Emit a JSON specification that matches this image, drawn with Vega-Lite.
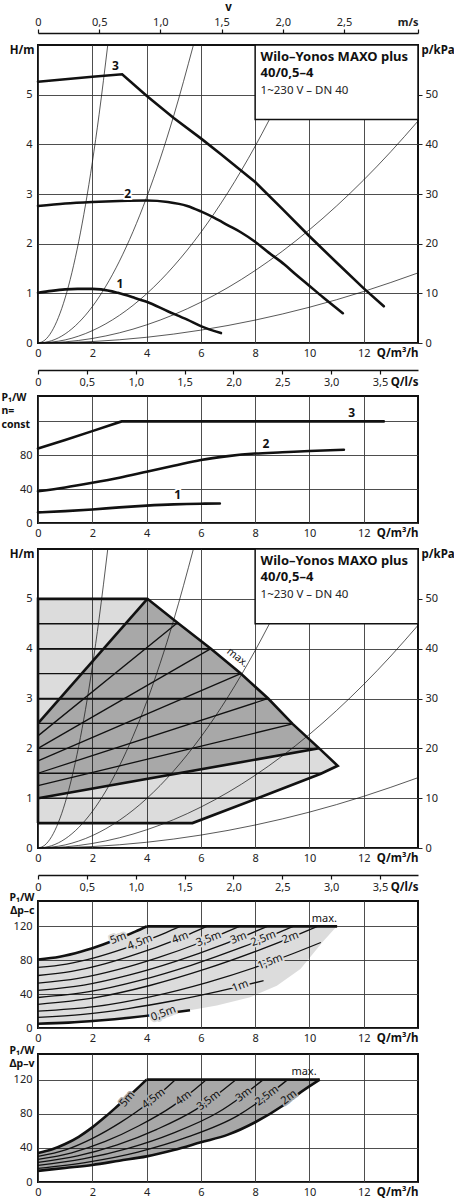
{
  "$schema": "https://vega.github.io/schema/vega-lite/v6.json",
  "padding": {"left": 0, "top": 0, "right": 0, "bottom": 0},
  "bounds": "flush",
  "spacing": 26,
  "config": {
    "view": {"stroke": null},
    "font": "Noto Sans",
    "axis": {
      "labelFont": "Noto Sans", "labelFontSize": 11, "labelColor": "#222",
      "titleFont": "Noto Sans", "titleFontSize": 11.5, "titleFontWeight": "bold", "titleColor": "#111",
      "domain": false, "ticks": false, "grid": true, "gridColor": "#3a3a3a", "gridWidth": 0.9,
      "labelPadding": 4, "labelFlush": false, "labelOverlap": false
    }
  },
  "datasets": {
    "sys": [
      {"s": "k1", "q": 0, "h": 0}, {"s": "k1", "q": 0.25, "h": 0.057}, {"s": "k1", "q": 0.5, "h": 0.227}, {"s": "k1", "q": 0.75, "h": 0.511},
      {"s": "k1", "q": 1, "h": 0.908}, {"s": "k1", "q": 1.25, "h": 1.419}, {"s": "k1", "q": 1.5, "h": 2.043}, {"s": "k1", "q": 1.75, "h": 2.781},
      {"s": "k1", "q": 2, "h": 3.632}, {"s": "k1", "q": 2.25, "h": 4.597}, {"s": "k1", "q": 2.57, "h": 6.0},
      {"s": "k2", "q": 0, "h": 0}, {"s": "k2", "q": 0.5, "h": 0.046}, {"s": "k2", "q": 1, "h": 0.183}, {"s": "k2", "q": 1.5, "h": 0.412},
      {"s": "k2", "q": 2, "h": 0.732}, {"s": "k2", "q": 2.5, "h": 1.144}, {"s": "k2", "q": 3, "h": 1.647}, {"s": "k2", "q": 3.5, "h": 2.242},
      {"s": "k2", "q": 4, "h": 2.928}, {"s": "k2", "q": 4.5, "h": 3.706}, {"s": "k2", "q": 5, "h": 4.575}, {"s": "k2", "q": 5.72, "h": 5.988},
      {"s": "k3", "q": 0, "h": 0}, {"s": "k3", "q": 1, "h": 0.062}, {"s": "k3", "q": 2, "h": 0.248}, {"s": "k3", "q": 3, "h": 0.557},
      {"s": "k3", "q": 4, "h": 0.99}, {"s": "k3", "q": 5, "h": 1.548}, {"s": "k3", "q": 6, "h": 2.228}, {"s": "k3", "q": 7, "h": 3.033},
      {"s": "k3", "q": 8, "h": 3.962}, {"s": "k3", "q": 9, "h": 5.014}, {"s": "k3", "q": 9.85, "h": 6.0},
      {"s": "k4", "q": 0, "h": 0}, {"s": "k4", "q": 1, "h": 0.023}, {"s": "k4", "q": 2, "h": 0.091}, {"s": "k4", "q": 3, "h": 0.205},
      {"s": "k4", "q": 4, "h": 0.365}, {"s": "k4", "q": 5, "h": 0.57}, {"s": "k4", "q": 6, "h": 0.821}, {"s": "k4", "q": 7, "h": 1.117},
      {"s": "k4", "q": 8, "h": 1.459}, {"s": "k4", "q": 9, "h": 1.847}, {"s": "k4", "q": 10, "h": 2.28}, {"s": "k4", "q": 11, "h": 2.759},
      {"s": "k4", "q": 12, "h": 3.283}, {"s": "k4", "q": 13, "h": 3.853}, {"s": "k4", "q": 14, "h": 4.469},
      {"s": "k5", "q": 0, "h": 0}, {"s": "k5", "q": 2, "h": 0.029}, {"s": "k5", "q": 4, "h": 0.115}, {"s": "k5", "q": 6, "h": 0.259},
      {"s": "k5", "q": 8, "h": 0.461}, {"s": "k5", "q": 10, "h": 0.72}, {"s": "k5", "q": 12, "h": 1.037}, {"s": "k5", "q": 14, "h": 1.411}
    ],
    "p1": [
      {"s": "c3", "q": 0, "h": 5.26}, {"s": "c3", "q": 1, "h": 5.31}, {"s": "c3", "q": 2, "h": 5.36}, {"s": "c3", "q": 3.1, "h": 5.41},
      {"s": "c3", "q": 4, "h": 4.98}, {"s": "c3", "q": 5, "h": 4.53}, {"s": "c3", "q": 6, "h": 4.12}, {"s": "c3", "q": 6.74, "h": 3.8},
      {"s": "c3", "q": 8, "h": 3.24}, {"s": "c3", "q": 9, "h": 2.7}, {"s": "c3", "q": 10, "h": 2.15}, {"s": "c3", "q": 11, "h": 1.62},
      {"s": "c3", "q": 12, "h": 1.1}, {"s": "c3", "q": 12.74, "h": 0.74},
      {"s": "c2", "q": 0, "h": 2.76}, {"s": "c2", "q": 1, "h": 2.81}, {"s": "c2", "q": 2, "h": 2.84}, {"s": "c2", "q": 3, "h": 2.86},
      {"s": "c2", "q": 4, "h": 2.87}, {"s": "c2", "q": 4.78, "h": 2.84}, {"s": "c2", "q": 5.5, "h": 2.76}, {"s": "c2", "q": 6, "h": 2.65},
      {"s": "c2", "q": 6.5, "h": 2.52}, {"s": "c2", "q": 7, "h": 2.37}, {"s": "c2", "q": 7.5, "h": 2.22}, {"s": "c2", "q": 7.97, "h": 2.05},
      {"s": "c2", "q": 8.5, "h": 1.82}, {"s": "c2", "q": 9.08, "h": 1.58}, {"s": "c2", "q": 9.5, "h": 1.38}, {"s": "c2", "q": 9.94, "h": 1.18},
      {"s": "c2", "q": 10.5, "h": 0.92}, {"s": "c2", "q": 11.23, "h": 0.6},
      {"s": "c1", "q": 0, "h": 1.01}, {"s": "c1", "q": 0.5, "h": 1.05}, {"s": "c1", "q": 1, "h": 1.08}, {"s": "c1", "q": 1.46, "h": 1.09},
      {"s": "c1", "q": 2, "h": 1.09}, {"s": "c1", "q": 2.32, "h": 1.08}, {"s": "c1", "q": 2.94, "h": 1.01}, {"s": "c1", "q": 3.5, "h": 0.92},
      {"s": "c1", "q": 4, "h": 0.83}, {"s": "c1", "q": 4.78, "h": 0.64}, {"s": "c1", "q": 5.5, "h": 0.47}, {"s": "c1", "q": 6, "h": 0.34},
      {"s": "c1", "q": 6.74, "h": 0.2}
    ],
    "p1lab": [
      {"q": 2.85, "h": 5.58, "t": "3"}, {"q": 3.3, "h": 3.0, "t": "2"}, {"q": 3.02, "h": 1.18, "t": "1"}
    ],
    "box": [{"q": 8, "q2": 14, "h": 4.5, "h2": 6}],
    "boxbold": [
      {"q": 8.2, "h": 5.68, "t": "Wilo–Yonos MAXO plus"}, {"q": 8.2, "h": 5.35, "t": "40/0,5–4"}
    ],
    "boxreg": [{"q": 8.2, "h": 5.01, "t": "1~230 V – DN 40"}],
    "p2": [
      {"s": "c3", "q": 0, "h": 88}, {"s": "c3", "q": 1, "h": 98}, {"s": "c3", "q": 2, "h": 108.5}, {"s": "c3", "q": 3.08, "h": 120},
      {"s": "c3", "q": 12.74, "h": 120},
      {"s": "c2", "q": 0, "h": 37.5}, {"s": "c2", "q": 1, "h": 42}, {"s": "c2", "q": 2, "h": 47.5}, {"s": "c2", "q": 3, "h": 53.5},
      {"s": "c2", "q": 4, "h": 60.5}, {"s": "c2", "q": 5, "h": 67.5}, {"s": "c2", "q": 6, "h": 74.5}, {"s": "c2", "q": 7, "h": 79},
      {"s": "c2", "q": 8, "h": 82}, {"s": "c2", "q": 9, "h": 83.5}, {"s": "c2", "q": 10, "h": 85}, {"s": "c2", "q": 11.27, "h": 86.5},
      {"s": "c1", "q": 0, "h": 12.5}, {"s": "c1", "q": 1, "h": 14}, {"s": "c1", "q": 2, "h": 16}, {"s": "c1", "q": 3, "h": 18.5},
      {"s": "c1", "q": 4, "h": 20.5}, {"s": "c1", "q": 5, "h": 22}, {"s": "c1", "q": 6, "h": 22.8}, {"s": "c1", "q": 6.7, "h": 23}
    ],
    "p2lab": [
      {"q": 11.56, "h": 130, "t": "3"}, {"q": 8.4, "h": 93.4, "t": "2"}, {"q": 5.15, "h": 32.7, "t": "1"}
    ],
    "p3a": [
      {"q": 0, "h": 0.5, "h2": 5}, {"q": 4.03, "h": 0.5, "h2": 5}, {"q": 5.14, "h": 0.5, "h2": 4.52}, {"q": 5.69, "h": 0.5, "h2": 4.29},
      {"q": 6.37, "h": 0.642, "h2": 4.0}, {"q": 7.47, "h": 0.87, "h2": 3.5}, {"q": 8.09, "h": 1.0, "h2": 3.19}, {"q": 8.48, "h": 1.08, "h2": 3.0},
      {"q": 9.38, "h": 1.27, "h2": 2.49}, {"q": 10.36, "h": 1.475, "h2": 2.0}, {"q": 10.42, "h": 1.49, "h2": 1.97}, {"q": 11.04, "h": 1.65, "h2": 1.65}
    ],
    "p3b": [
      {"q": 0, "h": 1.0, "h2": 2.5}, {"q": 4.03, "h": 1.39, "h2": 5.0}, {"q": 5.14, "h": 1.496, "h2": 4.52}, {"q": 6.37, "h": 1.615, "h2": 4.0},
      {"q": 7.47, "h": 1.721, "h2": 3.5}, {"q": 8.48, "h": 1.818, "h2": 3.0}, {"q": 9.38, "h": 1.905, "h2": 2.49}, {"q": 10.36, "h": 2.0, "h2": 2.0}
    ],
    "p3o": [
      {"o": 1, "q": 0, "h": 0.5}, {"o": 2, "q": 0, "h": 5}, {"o": 3, "q": 4.03, "h": 5}, {"o": 4, "q": 5.14, "h": 4.52},
      {"o": 5, "q": 6.37, "h": 4.0}, {"o": 6, "q": 7.47, "h": 3.5}, {"o": 7, "q": 8.48, "h": 3.0}, {"o": 8, "q": 9.38, "h": 2.49},
      {"o": 9, "q": 10.36, "h": 2.0}, {"o": 10, "q": 11.04, "h": 1.65}, {"o": 11, "q": 10.42, "h": 1.49}, {"o": 12, "q": 8.09, "h": 1.0},
      {"o": 13, "q": 5.69, "h": 0.5}, {"o": 14, "q": 0, "h": 0.5}
    ],
    "p3k": [
      {"s": "a", "q": 0, "h": 2.5}, {"s": "a", "q": 4.03, "h": 5},
      {"s": "b", "q": 0, "h": 1.0}, {"s": "b", "q": 10.36, "h": 2.0}
    ],
    "p3t": [
      {"s": "v45", "q": 0, "h": 2.25}, {"s": "v45", "q": 5.14, "h": 4.52},
      {"s": "v40", "q": 0, "h": 2.0}, {"s": "v40", "q": 6.37, "h": 4.0},
      {"s": "v35", "q": 0, "h": 1.75}, {"s": "v35", "q": 7.47, "h": 3.5},
      {"s": "v30", "q": 0, "h": 1.5}, {"s": "v30", "q": 8.48, "h": 3.0},
      {"s": "v25", "q": 0, "h": 1.25}, {"s": "v25", "q": 9.38, "h": 2.49},
      {"s": "c45", "q": 0, "h": 4.5}, {"s": "c45", "q": 5.18, "h": 4.5},
      {"s": "c40", "q": 0, "h": 4.0}, {"s": "c40", "q": 6.37, "h": 4.0},
      {"s": "c35", "q": 0, "h": 3.5}, {"s": "c35", "q": 7.47, "h": 3.5},
      {"s": "c30", "q": 0, "h": 3.0}, {"s": "c30", "q": 8.48, "h": 3.0},
      {"s": "c25", "q": 0, "h": 2.5}, {"s": "c25", "q": 9.38, "h": 2.5},
      {"s": "c20", "q": 0, "h": 2.0}, {"s": "c20", "q": 10.36, "h": 2.0},
      {"s": "c15", "q": 0, "h": 1.5}, {"s": "c15", "q": 10.45, "h": 1.5},
      {"s": "c10", "q": 0, "h": 1.0}, {"s": "c10", "q": 8.09, "h": 1.0}
    ],
    "p3max": [{"q": 7.35, "h": 3.82, "t": "max."}],
    "p4a": [
      {"q": 0, "h": 5, "h2": 81}, {"q": 0.8, "h": 5.9, "h2": 84.2}, {"q": 1.12, "h": 6.3, "h2": 86.6}, {"q": 1.6, "h": 7.4, "h2": 90.4},
      {"q": 2.24, "h": 8.9, "h2": 97.0}, {"q": 2.4, "h": 9.4, "h2": 98.7}, {"q": 3.2, "h": 11.7, "h2": 108.6}, {"q": 3.36, "h": 12.2, "h2": 110.8},
      {"q": 3.6, "h": 13.1, "h2": 114.1}, {"q": 4.0, "h": 14.5, "h2": 120}, {"q": 4.48, "h": 16.3, "h2": 120}, {"q": 5.04, "h": 18.6, "h2": 120},
      {"q": 5.6, "h": 21, "h2": 120}, {"q": 6.59, "h": 26.6, "h2": 120}, {"q": 7.82, "h": 36.4, "h2": 120}, {"q": 8.8, "h": 50, "h2": 120},
      {"q": 9.67, "h": 69.6, "h2": 120}, {"q": 10.47, "h": 101, "h2": 120}, {"q": 10.96, "h": 118.5, "h2": 120}, {"q": 11.02, "h": 120, "h2": 120}
    ],
    "p4": [
      {"s": "5m", "q": 0, "h": 81}, {"s": "5m", "q": 0.8, "h": 84.2}, {"s": "5m", "q": 1.6, "h": 90.4}, {"s": "5m", "q": 2.4, "h": 98.7},
      {"s": "5m", "q": 3.2, "h": 108.6}, {"s": "5m", "q": 3.6, "h": 114.1}, {"s": "5m", "q": 4.0, "h": 120},
      {"s": "4.5m", "q": 0, "h": 71.5}, {"s": "4.5m", "q": 1.05, "h": 75.5}, {"s": "4.5m", "q": 2.1, "h": 83.2}, {"s": "4.5m", "q": 3.14, "h": 93.5},
      {"s": "4.5m", "q": 4.19, "h": 105.8}, {"s": "4.5m", "q": 4.72, "h": 112.7}, {"s": "4.5m", "q": 5.24, "h": 120},
      {"s": "4m", "q": 0, "h": 62}, {"s": "4m", "q": 1.24, "h": 66.8}, {"s": "4m", "q": 2.49, "h": 76.0}, {"s": "4m", "q": 3.73, "h": 88.3},
      {"s": "4m", "q": 4.98, "h": 103.0}, {"s": "4m", "q": 5.6, "h": 111.2}, {"s": "4m", "q": 6.22, "h": 120},
      {"s": "3.5m", "q": 0, "h": 53}, {"s": "3.5m", "q": 1.48, "h": 58.5}, {"s": "3.5m", "q": 2.97, "h": 69.2}, {"s": "3.5m", "q": 4.45, "h": 83.4},
      {"s": "3.5m", "q": 5.94, "h": 100.4}, {"s": "3.5m", "q": 6.68, "h": 109.9}, {"s": "3.5m", "q": 7.42, "h": 120},
      {"s": "3m", "q": 0, "h": 44.5}, {"s": "3m", "q": 1.69, "h": 50.7}, {"s": "3m", "q": 3.38, "h": 62.7}, {"s": "3m", "q": 5.07, "h": 78.7},
      {"s": "3m", "q": 6.76, "h": 97.9}, {"s": "3m", "q": 7.6, "h": 108.6}, {"s": "3m", "q": 8.45, "h": 120},
      {"s": "2.5m", "q": 0, "h": 36}, {"s": "2.5m", "q": 1.88, "h": 42.9}, {"s": "2.5m", "q": 3.76, "h": 56.3}, {"s": "2.5m", "q": 5.64, "h": 74.1},
      {"s": "2.5m", "q": 7.52, "h": 95.4}, {"s": "2.5m", "q": 8.46, "h": 107.3}, {"s": "2.5m", "q": 9.4, "h": 120},
      {"s": "2m", "q": 0, "h": 28}, {"s": "2m", "q": 2.06, "h": 35.6}, {"s": "2m", "q": 4.12, "h": 50.2}, {"s": "2m", "q": 6.18, "h": 69.7},
      {"s": "2m", "q": 8.24, "h": 93.1}, {"s": "2m", "q": 9.27, "h": 106.1}, {"s": "2m", "q": 10.3, "h": 120},
      {"s": "1.5m", "q": 0, "h": 20}, {"s": "1.5m", "q": 2.08, "h": 25.2}, {"s": "1.5m", "q": 4.17, "h": 37.1}, {"s": "1.5m", "q": 6.25, "h": 54.0},
      {"s": "1.5m", "q": 8.34, "h": 75.4}, {"s": "1.5m", "q": 9.38, "h": 87.7}, {"s": "1.5m", "q": 10.42, "h": 101},
      {"s": "1m", "q": 0, "h": 12.5}, {"s": "1m", "q": 1.66, "h": 16.1}, {"s": "1m", "q": 3.32, "h": 23.0}, {"s": "1m", "q": 4.99, "h": 32.2},
      {"s": "1m", "q": 6.65, "h": 43.3}, {"s": "1m", "q": 7.48, "h": 49.4}, {"s": "1m", "q": 8.31, "h": 56},
      {"s": "0.5m", "q": 0, "h": 5}, {"s": "0.5m", "q": 1.12, "h": 6.3}, {"s": "0.5m", "q": 2.24, "h": 8.9}, {"s": "0.5m", "q": 3.36, "h": 12.2},
      {"s": "0.5m", "q": 4.48, "h": 16.3}, {"s": "0.5m", "q": 5.04, "h": 18.6}, {"s": "0.5m", "q": 5.6, "h": 21},
      {"s": "max", "q": 4.0, "h": 120}, {"s": "max", "q": 11.02, "h": 120}
    ],
    "p4lab": [
      {"q": 2.96, "h": 105.6, "t": "5m"}, {"q": 3.76, "h": 101, "t": "4,5m"}, {"q": 5.24, "h": 106.4, "t": "4m"},
      {"q": 6.29, "h": 104.9, "t": "3,5m"}, {"q": 7.39, "h": 105.9, "t": "3m"}, {"q": 8.31, "h": 105.4, "t": "2,5m"},
      {"q": 9.3, "h": 106.5, "t": "2m"}, {"q": 8.56, "h": 78, "t": "1,5m"}, {"q": 7.45, "h": 49.2, "t": "1m"},
      {"q": 4.62, "h": 16.9, "t": "0,5m"}
    ],
    "p4max": [{"q": 10.55, "h": 128.5, "t": "max."}],
    "p5a": [
      {"q": 0, "h": 13, "h2": 34}, {"q": 0.5, "h": 14.7, "h2": 38}, {"q": 1, "h": 16.5, "h2": 44.5}, {"q": 1.5, "h": 18.2, "h2": 53},
      {"q": 2, "h": 20, "h2": 64}, {"q": 2.5, "h": 22.5, "h2": 77}, {"q": 3, "h": 25, "h2": 91}, {"q": 3.5, "h": 27.5, "h2": 105},
      {"q": 4, "h": 30, "h2": 120}, {"q": 5, "h": 37.5, "h2": 120}, {"q": 6, "h": 46.5, "h2": 120}, {"q": 7, "h": 55.5, "h2": 120},
      {"q": 8, "h": 70, "h2": 120}, {"q": 9, "h": 89, "h2": 120}, {"q": 9.67, "h": 105, "h2": 120}, {"q": 10.38, "h": 120, "h2": 120}
    ],
    "p5": [
      {"s": "5m", "q": 0, "h": 34}, {"s": "5m", "q": 0.5, "h": 38}, {"s": "5m", "q": 1, "h": 44.5}, {"s": "5m", "q": 1.5, "h": 53},
      {"s": "5m", "q": 2, "h": 64}, {"s": "5m", "q": 2.5, "h": 77}, {"s": "5m", "q": 3, "h": 91}, {"s": "5m", "q": 3.5, "h": 105},
      {"s": "5m", "q": 4, "h": 120},
      {"s": "4.5m", "q": 0, "h": 30}, {"s": "4.5m", "q": 1.014, "h": 37.7}, {"s": "4.5m", "q": 2.028, "h": 51.5}, {"s": "4.5m", "q": 3.042, "h": 69.9},
      {"s": "4.5m", "q": 4.056, "h": 92.3}, {"s": "4.5m", "q": 4.563, "h": 105.5}, {"s": "4.5m", "q": 5.07, "h": 120},
      {"s": "4m", "q": 0, "h": 26.5}, {"s": "4m", "q": 1.24, "h": 34.2}, {"s": "4m", "q": 2.48, "h": 47.5}, {"s": "4m", "q": 3.72, "h": 65.9},
      {"s": "4m", "q": 4.96, "h": 88.9}, {"s": "4m", "q": 5.58, "h": 103.6}, {"s": "4m", "q": 6.2, "h": 120},
      {"s": "3.5m", "q": 0, "h": 23}, {"s": "3.5m", "q": 1.46, "h": 30.6}, {"s": "3.5m", "q": 2.92, "h": 43.5}, {"s": "3.5m", "q": 4.38, "h": 61.7},
      {"s": "3.5m", "q": 5.84, "h": 85.4}, {"s": "3.5m", "q": 6.57, "h": 101.6}, {"s": "3.5m", "q": 7.3, "h": 120},
      {"s": "3m", "q": 0, "h": 19.5}, {"s": "3m", "q": 1.66, "h": 27.0}, {"s": "3m", "q": 3.32, "h": 39.4}, {"s": "3m", "q": 4.98, "h": 57.3},
      {"s": "3m", "q": 6.64, "h": 81.7}, {"s": "3m", "q": 7.47, "h": 99.4}, {"s": "3m", "q": 8.3, "h": 120},
      {"s": "2.5m", "q": 0, "h": 16}, {"s": "2.5m", "q": 1.84, "h": 23.4}, {"s": "2.5m", "q": 3.68, "h": 35.1}, {"s": "2.5m", "q": 5.52, "h": 52.8},
      {"s": "2.5m", "q": 7.36, "h": 77.8}, {"s": "2.5m", "q": 8.28, "h": 97.2}, {"s": "2.5m", "q": 9.2, "h": 120},
      {"s": "2m", "q": 0, "h": 13}, {"s": "2m", "q": 1, "h": 16.5}, {"s": "2m", "q": 2, "h": 20}, {"s": "2m", "q": 3, "h": 25},
      {"s": "2m", "q": 4, "h": 30}, {"s": "2m", "q": 5, "h": 37.5}, {"s": "2m", "q": 6, "h": 46.5}, {"s": "2m", "q": 7, "h": 55.5},
      {"s": "2m", "q": 8, "h": 70}, {"s": "2m", "q": 9, "h": 89}, {"s": "2m", "q": 9.67, "h": 105}, {"s": "2m", "q": 10.38, "h": 120},
      {"s": "max", "q": 4, "h": 120}, {"s": "max", "q": 10.38, "h": 120}
    ],
    "p5lab": [
      {"q": 4.26, "h": 97.6, "t": "4,5m"}, {"q": 5.36, "h": 98.4, "t": "4m"}, {"q": 6.29, "h": 95.4, "t": "3,5m"},
      {"q": 7.58, "h": 102, "t": "3m"}, {"q": 8.44, "h": 101, "t": "2,5m"}, {"q": 9.25, "h": 99, "t": "2m"}
    ],
    "p5lab5": [{"q": 3.3, "h": 97, "t": "5m"}],
    "p5max": [{"q": 9.8, "h": 129, "t": "max."}]
  },
  "vconcat": [
    {
      "width": 380, "height": 298,
      "view": {"stroke": "#111", "strokeWidth": 2},
      "resolve": {"scale": {"x": "independent", "y": "independent"}},
      "layer": [
        {
          "encoding": {
            "x": {"field": "q", "type": "quantitative", "scale": {"domain": [0, 14], "nice": false},
              "axis": {"values": [0, 2, 4, 6, 8, 10, 12], "title": "Q/m³/h", "titleX": 380, "titleY": 4, "titleAlign": "right", "titleBaseline": "top"}},
            "y": {"field": "h", "type": "quantitative", "scale": {"domain": [0, 6], "nice": false},
              "axis": {"values": [0, 1, 2, 3, 4, 5], "labelPadding": 6, "title": "H/m", "titleAngle": 0, "titleX": -4, "titleY": 5, "titleAlign": "right", "titleBaseline": "middle"}}
          },
          "layer": [
            {"data": {"name": "sys"}, "mark": {"type": "line", "color": "#111", "strokeWidth": 0.7, "interpolate": "monotone"}, "encoding": {"detail": {"field": "s"}}},
            {"data": {"name": "p1"}, "transform": [{"filter": "datum.s == 'c3'"}], "mark": {"type": "line", "color": "#111", "strokeWidth": 2.6, "strokeCap": "round"}},
            {"data": {"name": "p1"}, "transform": [{"filter": "datum.s != 'c3'"}], "mark": {"type": "line", "color": "#111", "strokeWidth": 2.6, "strokeCap": "round", "interpolate": "monotone"}, "encoding": {"detail": {"field": "s"}}},
            {"data": {"name": "box"}, "mark": {"type": "rect", "fill": "white", "stroke": "#111", "strokeWidth": 1.5}, "encoding": {"x2": {"field": "q2"}, "y2": {"field": "h2"}}},
            {"data": {"name": "boxbold"}, "mark": {"type": "text", "align": "left", "baseline": "alphabetic", "fontWeight": "bold", "fontSize": 13, "color": "#111"}, "encoding": {"text": {"field": "t"}}},
            {"data": {"name": "boxreg"}, "mark": {"type": "text", "align": "left", "baseline": "alphabetic", "fontSize": 11.5, "color": "#222"}, "encoding": {"text": {"field": "t"}}},
            {"data": {"name": "p1lab"}, "mark": {"type": "text", "fontWeight": "bold", "fontSize": 12, "color": "white", "stroke": "white", "strokeWidth": 4, "strokeJoin": "round"}, "encoding": {"text": {"field": "t"}}},
            {"data": {"name": "p1lab"}, "mark": {"type": "text", "fontWeight": "bold", "fontSize": 12, "color": "#111"}, "encoding": {"text": {"field": "t"}}}
          ]
        },
        {
          "data": {"values": [{"v": 0, "kpa": 0}]},
          "mark": {"type": "point", "opacity": 0},
          "encoding": {
            "x": {"field": "v", "type": "quantitative", "scale": {"domain": [0, 3.105], "nice": false},
              "axis": {"orient": "top", "offset": 12, "grid": false, "domain": true, "domainColor": "#111", "domainWidth": 1.5,
                "ticks": true, "tickSize": 4, "tickColor": "#111", "tickWidth": 1.2, "labelPadding": 2,
                "values": [0, 0.5, 1, 1.5, 2, 2.5, 3.105],
                "labelExpr": "datum.value > 3 ? 'm/s' : datum.value == 0 ? '0' : replace(format(datum.value, '.1f'), '.', ',')",
                "labelAlign": {"condition": {"test": "datum.value > 3", "value": "right"}, "value": "center"},
                "labelFontWeight": {"condition": {"test": "datum.value > 3", "value": "bold"}, "value": "normal"},
                "title": "v", "titlePadding": 4}},
            "y": {"field": "kpa", "type": "quantitative", "scale": {"domain": [0, 60], "nice": false},
              "axis": {"orient": "right", "grid": false, "values": [0, 10, 20, 30, 40, 50], "ticks": true, "tickSize": 4, "tickColor": "#222",
                "labelPadding": 3, "title": "p/kPa", "titleAngle": 0, "titleX": 3, "titleY": 5, "titleAlign": "left", "titleBaseline": "middle"}}
          }
        }
      ]
    },
    {
      "width": 380, "height": 1,
      "data": {"values": [{"ls": 0}]},
      "mark": {"type": "point", "opacity": 0},
      "encoding": {
        "x": {"field": "ls", "type": "quantitative", "scale": {"domain": [0, 3.8889], "nice": false},
          "axis": {"orient": "bottom", "grid": false, "domain": true, "domainColor": "#111", "domainWidth": 1.5,
            "ticks": true, "tickSize": 4, "tickColor": "#111", "tickWidth": 1.2, "labelPadding": 2,
            "values": [0, 0.5, 1, 1.5, 2, 2.5, 3, 3.5],
            "labelExpr": "datum.value == 0 ? '0' : replace(format(datum.value, '.1f'), '.', ',')",
            "title": "Q/l/s", "titleX": 380, "titleY": 6, "titleAlign": "right", "titleBaseline": "top"}}
      }
    },
    {
      "width": 380, "height": 127,
      "view": {"stroke": "#111", "strokeWidth": 2},
      "encoding": {
        "x": {"field": "q", "type": "quantitative", "scale": {"domain": [0, 14], "nice": false},
          "axis": {"values": [0, 2, 4, 6, 8, 10, 12], "title": "Q/m³/h", "titleX": 380, "titleY": 4, "titleAlign": "right", "titleBaseline": "top"}},
        "y": {"field": "h", "type": "quantitative", "scale": {"domain": [0, 150], "nice": false},
          "axis": {"values": [0, 40, 80, 120], "labelExpr": "datum.value == 120 ? '' : datum.label", "labelPadding": 6,
            "title": ["P₁/W", "n=", "const"], "titleFontSize": 10.5, "titleAngle": 0, "titleX": -37, "titleY": -4, "titleAlign": "left", "titleBaseline": "top", "titleLineHeight": 13.5}}
      },
      "layer": [
        {"data": {"name": "p2"}, "transform": [{"filter": "datum.s == 'c3'"}], "mark": {"type": "line", "color": "#111", "strokeWidth": 2.6, "strokeCap": "round"}},
        {"data": {"name": "p2"}, "transform": [{"filter": "datum.s != 'c3'"}], "mark": {"type": "line", "color": "#111", "strokeWidth": 2.6, "strokeCap": "round", "interpolate": "monotone"}, "encoding": {"detail": {"field": "s"}}},
        {"data": {"name": "p2lab"}, "mark": {"type": "text", "fontWeight": "bold", "fontSize": 12, "color": "white", "stroke": "white", "strokeWidth": 4, "strokeJoin": "round"}, "encoding": {"text": {"field": "t"}}},
        {"data": {"name": "p2lab"}, "mark": {"type": "text", "fontWeight": "bold", "fontSize": 12, "color": "#111"}, "encoding": {"text": {"field": "t"}}}
      ]
    },
    {
      "width": 380, "height": 299,
      "view": {"stroke": "#111", "strokeWidth": 2},
      "resolve": {"scale": {"y": "independent"}},
      "layer": [
        {
          "encoding": {
            "x": {"field": "q", "type": "quantitative", "scale": {"domain": [0, 14], "nice": false},
              "axis": {"values": [0, 2, 4, 6, 8, 10, 12], "title": "Q/m³/h", "titleX": 380, "titleY": 4, "titleAlign": "right", "titleBaseline": "top"}},
            "y": {"field": "h", "type": "quantitative", "scale": {"domain": [0, 6], "nice": false},
              "axis": {"values": [0, 1, 2, 3, 4, 5], "labelPadding": 6, "title": "H/m", "titleAngle": 0, "titleX": -4, "titleY": 5, "titleAlign": "right", "titleBaseline": "middle"}}
          },
          "layer": [
            {"data": {"name": "p3a"}, "mark": {"type": "area", "color": "black", "fillOpacity": 0.137}, "encoding": {"y2": {"field": "h2"}}},
            {"data": {"name": "p3b"}, "mark": {"type": "area", "color": "black", "fillOpacity": 0.236}, "encoding": {"y2": {"field": "h2"}}},
            {"data": {"name": "sys"}, "mark": {"type": "line", "color": "#111", "strokeWidth": 0.7, "interpolate": "monotone"}, "encoding": {"detail": {"field": "s"}}},
            {"data": {"name": "p3t"}, "mark": {"type": "line", "color": "#111", "strokeWidth": 1.3}, "encoding": {"detail": {"field": "s"}}},
            {"data": {"name": "p3k"}, "mark": {"type": "line", "color": "#111", "strokeWidth": 2.6}, "encoding": {"detail": {"field": "s"}}},
            {"data": {"name": "p3o"}, "mark": {"type": "line", "color": "#111", "strokeWidth": 2.6, "strokeJoin": "miter"}, "encoding": {"order": {"field": "o"}}},
            {"data": {"name": "p3max"}, "mark": {"type": "text", "fontSize": 10.5, "angle": 39, "color": "#111"}, "encoding": {"text": {"field": "t"}}},
            {"data": {"name": "box"}, "mark": {"type": "rect", "fill": "white", "stroke": "#111", "strokeWidth": 1.5}, "encoding": {"x2": {"field": "q2"}, "y2": {"field": "h2"}}},
            {"data": {"name": "boxbold"}, "mark": {"type": "text", "align": "left", "baseline": "alphabetic", "fontWeight": "bold", "fontSize": 13, "color": "#111"}, "encoding": {"text": {"field": "t"}}},
            {"data": {"name": "boxreg"}, "mark": {"type": "text", "align": "left", "baseline": "alphabetic", "fontSize": 11.5, "color": "#222"}, "encoding": {"text": {"field": "t"}}}
          ]
        },
        {
          "data": {"values": [{"kpa": 0}]},
          "mark": {"type": "point", "opacity": 0},
          "encoding": {
            "y": {"field": "kpa", "type": "quantitative", "scale": {"domain": [0, 60], "nice": false},
              "axis": {"orient": "right", "grid": false, "values": [0, 10, 20, 30, 40, 50], "ticks": true, "tickSize": 4, "tickColor": "#222",
                "labelPadding": 3, "title": "p/kPa", "titleAngle": 0, "titleX": 3, "titleY": 5, "titleAlign": "left", "titleBaseline": "middle"}}
          }
        }
      ]
    },
    {
      "width": 380, "height": 1,
      "data": {"values": [{"ls": 0}]},
      "mark": {"type": "point", "opacity": 0},
      "encoding": {
        "x": {"field": "ls", "type": "quantitative", "scale": {"domain": [0, 3.8889], "nice": false},
          "axis": {"orient": "bottom", "grid": false, "domain": true, "domainColor": "#111", "domainWidth": 1.5,
            "ticks": true, "tickSize": 4, "tickColor": "#111", "tickWidth": 1.2, "labelPadding": 2,
            "values": [0, 0.5, 1, 1.5, 2, 2.5, 3, 3.5],
            "labelExpr": "datum.value == 0 ? '0' : replace(format(datum.value, '.1f'), '.', ',')",
            "title": "Q/l/s", "titleX": 380, "titleY": 6, "titleAlign": "right", "titleBaseline": "top"}}
      }
    },
    {
      "width": 380, "height": 127,
      "view": {"stroke": "#111", "strokeWidth": 2},
      "encoding": {
        "x": {"field": "q", "type": "quantitative", "scale": {"domain": [0, 14], "nice": false},
          "axis": {"values": [0, 2, 4, 6, 8, 10, 12], "title": "Q/m³/h", "titleX": 380, "titleY": 4, "titleAlign": "right", "titleBaseline": "top"}},
        "y": {"field": "h", "type": "quantitative", "scale": {"domain": [0, 150], "nice": false},
          "axis": {"values": [0, 40, 80, 120], "labelPadding": 6,
            "title": ["P₁/W", "Δp–c"], "titleFontSize": 10.5, "titleAngle": 0, "titleX": -4, "titleY": -9, "titleAlign": "right", "titleBaseline": "top", "titleLineHeight": 13.5}}
      },
      "layer": [
        {"data": {"name": "p4a"}, "mark": {"type": "area", "color": "black", "fillOpacity": 0.137}, "encoding": {"y2": {"field": "h2"}}},
        {"data": {"name": "p4"}, "transform": [{"filter": "indexof(['5m', '0.5m', 'max'], datum.s) < 0"}], "mark": {"type": "line", "color": "#111", "strokeWidth": 1.3, "interpolate": "monotone"}, "encoding": {"detail": {"field": "s"}}},
        {"data": {"name": "p4"}, "transform": [{"filter": "indexof(['5m', '0.5m', 'max'], datum.s) >= 0"}], "mark": {"type": "line", "color": "#111", "strokeWidth": 2.6, "interpolate": "monotone"}, "encoding": {"detail": {"field": "s"}}},
        {"data": {"name": "p4lab"}, "mark": {"type": "text", "fontSize": 11, "angle": -21, "color": "#dcdcdc", "stroke": "#dcdcdc", "strokeWidth": 4, "strokeJoin": "round"}, "encoding": {"text": {"field": "t"}}},
        {"data": {"name": "p4lab"}, "mark": {"type": "text", "fontSize": 11, "angle": -21, "color": "#111"}, "encoding": {"text": {"field": "t"}}},
        {"data": {"name": "p4max"}, "mark": {"type": "text", "fontSize": 11, "color": "#111"}, "encoding": {"text": {"field": "t"}}}
      ]
    },
    {
      "width": 380, "height": 128,
      "view": {"stroke": "#111", "strokeWidth": 2},
      "encoding": {
        "x": {"field": "q", "type": "quantitative", "scale": {"domain": [0, 14], "nice": false},
          "axis": {"values": [0, 2, 4, 6, 8, 10, 12], "title": "Q/m³/h", "titleX": 380, "titleY": 4, "titleAlign": "right", "titleBaseline": "top"}},
        "y": {"field": "h", "type": "quantitative", "scale": {"domain": [0, 150], "nice": false},
          "axis": {"values": [0, 40, 80, 120], "labelPadding": 6,
            "title": ["P₁/W", "Δp–v"], "titleFontSize": 10.5, "titleAngle": 0, "titleX": -4, "titleY": -9, "titleAlign": "right", "titleBaseline": "top", "titleLineHeight": 13.5}}
      },
      "layer": [
        {"data": {"name": "p5a"}, "mark": {"type": "area", "color": "black", "fillOpacity": 0.34}, "encoding": {"y2": {"field": "h2"}}},
        {"data": {"name": "p5"}, "transform": [{"filter": "indexof(['5m', '2m', 'max'], datum.s) < 0"}], "mark": {"type": "line", "color": "#111", "strokeWidth": 1.3, "interpolate": "monotone"}, "encoding": {"detail": {"field": "s"}}},
        {"data": {"name": "p5"}, "transform": [{"filter": "indexof(['5m', '2m', 'max'], datum.s) >= 0"}], "mark": {"type": "line", "color": "#111", "strokeWidth": 2.6, "interpolate": "monotone"}, "encoding": {"detail": {"field": "s"}}},
        {"data": {"name": "p5lab"}, "mark": {"type": "text", "fontSize": 11, "angle": -37, "color": "#a8a8a8", "stroke": "#a8a8a8", "strokeWidth": 3.5, "strokeJoin": "round"}, "encoding": {"text": {"field": "t"}}},
        {"data": {"name": "p5lab"}, "mark": {"type": "text", "fontSize": 11, "angle": -37, "color": "#111"}, "encoding": {"text": {"field": "t"}}},
        {"data": {"name": "p5lab5"}, "mark": {"type": "text", "fontSize": 11, "angle": -50, "color": "#a8a8a8", "stroke": "#a8a8a8", "strokeWidth": 3, "strokeJoin": "round"}, "encoding": {"text": {"field": "t"}}},
        {"data": {"name": "p5lab5"}, "mark": {"type": "text", "fontSize": 11, "angle": -50, "color": "#111"}, "encoding": {"text": {"field": "t"}}},
        {"data": {"name": "p5max"}, "mark": {"type": "text", "fontSize": 11, "color": "#111"}, "encoding": {"text": {"field": "t"}}}
      ]
    }
  ]
}
